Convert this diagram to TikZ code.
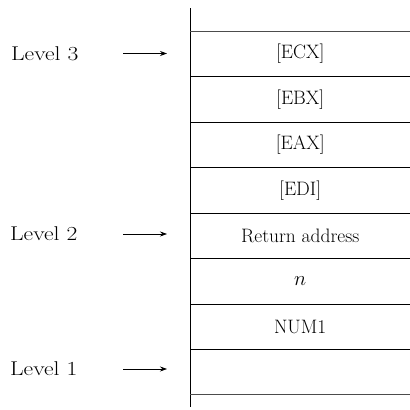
\documentclass[tikz,border=0pt]{standalone}
\usepackage{fontspec}
\usepackage{graphicx}
\usetikzlibrary{arrows.meta}
\newcommand{\widetext}[1]{\scalebox{1.18}[1]{#1}}
\begin{document}
\begin{tikzpicture}[x=1bp,y=-1bp,
  cell/.style={draw=none,minimum width=220bp,minimum height=45.1bp,inner sep=0pt,anchor=north west,
    font=\fontsize{19.5}{22}\selectfont},
  lvl/.style={anchor=west,inner sep=0pt,font=\fontsize{20}{22}\selectfont},
  sep/.style={line width=1pt},
  ptr/.style={line width=0.7pt,-{Stealth[length=7bp,width=5bp]}}]
\useasboundingbox (0,0) rectangle (410,410);
% stack cells
\node[cell] (r0) at (190,31) {[ECX]};
\node[cell] (r1) at (r0.south west) {[EBX]};
\node[cell] (r2) at (r1.south west) {[EAX]};
\node[cell] (r3) at (r2.south west) {[EDI]};
\node[cell] (r4) at (r3.south west) {Return address};
\node[cell] (r5) at (r4.south west) {$n$};
\node[cell] (r6) at (r5.south west) {NUM1};
\node[cell] (r7) at (r6.south west) {};
% frame
\coordinate (vtop) at (190,8);
\coordinate (vbot) at (190,407);
\draw[line width=0.9pt] (vtop) -- (vbot);
\draw[sep,black!70] (r0.north west) -- (r0.north east);
\foreach \r in {r0,r1,r2,r3,r4,r5,r6} \draw[sep] (\r.south west) -- (\r.south east);
\draw[sep,black!70] (r7.south west) -- (r7.south east);
% levels
\node[lvl] (L3) at (11,53.5) {\widetext{Level 3}};
\node[lvl] (L2) at (10,234) {\widetext{Level 2}};
\node[lvl] (L1) at (10,369) {\widetext{Level 1}};
\coordinate (a3) at (123,53.5);
\coordinate (b3) at (167,53.5);
\coordinate (a2) at (123,234);
\coordinate (b2) at (167,234);
\coordinate (a1) at (123,369);
\coordinate (b1) at (167,369);
\draw[ptr] (a3) -- (b3);
\draw[ptr] (a2) -- (b2);
\draw[ptr] (a1) -- (b1);
\end{tikzpicture}
\end{document}
